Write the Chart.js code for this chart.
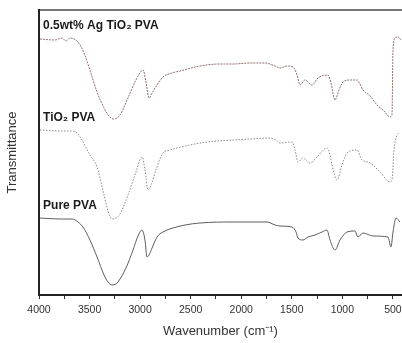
<!DOCTYPE html>
<html>
<head>
<meta charset="utf-8">
<script src="https://cdn.jsdelivr.net/npm/chart.js@4"></script>
<style>
html,body{margin:0;padding:0;background:#fff;}
canvas{display:block;}
</style>
</head>
<body>
<canvas id="c" width="402" height="343"></canvas>
<script>
// Series labels
const seriesLabels = ["0.5wt% Ag TiO\u2082 PVA", "TiO\u2082 PVA", "Pure PVA"];
// Label anchors (wavenumber, transmittance a.u.)
const labelWavenumbers = [3960, 3960, 3960];
const labelValues = [269, 177, 89];

// 0.5wt% Ag TiO2 PVA
const agWavenumbers = [3990,3842,3773,3733,3693,3654,3614,3555,3496,3426,3357,3308,3268,3229,3199,3120,3041,2971,2942,2912,2882,2833,2774,2685,2606,2408,2210,2081,1913,1765,1666,1617,1547,1488,1448,1419,1369,1300,1241,1142,1112,1073,1033,993,924,855,796,726,657,588,529,509,499,479,450,420];
const agValues =      [256,255,257,254,257,256,253,242,225,203,187,179,176,177,180,197,215,225,213,197,202,210,218,222,224,229,231,231,232,232,229,227,229,228,220,210,215,210,217,220,212,195,205,213,215,215,205,199,190,184,178,180,245,257,258,255];

// TiO2 PVA
const tio2Wavenumbers = [3990,3792,3674,3624,3575,3496,3426,3357,3318,3278,3239,3199,3120,3041,2981,2952,2922,2892,2843,2774,2704,2635,2507,2339,2081,1913,1735,1656,1617,1498,1468,1439,1389,1320,1251,1152,1122,1102,1053,1003,954,855,806,746,697,627,529,509,489,459,430];
const tio2Values =      [165,164,164,162,155,140,128,100,84,76,77,81,100,123,138,125,105,110,125,142,145,147,150,153,155,156,157,155,152,153,145,133,137,132,138,147,140,130,115,130,142,145,135,133,130,123,113,115,145,160,162];

// Pure PVA
const pureWavenumbers = [3990,3792,3674,3614,3565,3496,3426,3357,3318,3278,3239,3219,3140,3070,3021,2981,2952,2932,2912,2882,2833,2754,2675,2556,2408,2081,1745,1666,1617,1498,1458,1439,1389,1340,1270,1201,1152,1122,1073,1023,954,875,845,796,697,548,519,499,469,430];
const pureValues =      [77,76,76,73,68,55,38,20,13,10,11,13,27,45,59,65,55,38,40,47,58,64,67,70,72,73,73,70,69,68,63,57,55,58,60,63,65,55,45,55,63,64,58,62,59,58,48,63,77,73];

// X axis tick labels
const xTickLabels = [4000,3500,3000,2500,2000,1500,1000,500];

const toPts = (xs, ys) => xs.map((x, i) => ({x: x, y: ys[i]}));

const FONT = "'Liberation Sans', Arial, sans-serif";

const labelPlugin = {
  id: 'seriesLabels',
  afterDatasetsDraw(chart) {
    const ctx = chart.ctx;
    const xs = chart.scales.x, ys = chart.scales.y;
    ctx.save();
    ctx.font = "bold 12px " + FONT;
    ctx.fillStyle = "#1a1a1a";
    ctx.textBaseline = "middle";
    ctx.textAlign = "left";
    seriesLabels.forEach((t, i) => {
      ctx.fillText(t, xs.getPixelForValue(labelWavenumbers[i]), ys.getPixelForValue(labelValues[i]));
    });
    ctx.restore();
  }
};

new Chart(document.getElementById('c'), {
  type: 'line',
  data: {
    datasets: [
      {label: seriesLabels[0], data: toPts(agWavenumbers, agValues), borderColor: '#8f7070', borderWidth: 1, borderDash: [2, 1], pointRadius: 0, cubicInterpolationMode: 'monotone', fill: false},
      {label: seriesLabels[1], data: toPts(tio2Wavenumbers, tio2Values), borderColor: '#8a8a8a', borderWidth: 1, borderDash: [1.5, 1.5], pointRadius: 0, cubicInterpolationMode: 'monotone', fill: false},
      {label: seriesLabels[2], data: toPts(pureWavenumbers, pureValues), borderColor: '#5e5e5e', borderWidth: 1, pointRadius: 0, cubicInterpolationMode: 'monotone', fill: false}
    ]
  },
  options: {
    responsive: false,
    animation: false,
    events: [],
    layout: {padding: {left: 1, right: 0, top: 10, bottom: 0}},
    plugins: {legend: {display: false}, tooltip: {enabled: false}},
    scales: {
      x: {
        type: 'linear',
        position: 'bottom',
        reverse: true,
        min: 410,
        max: 4000,
        afterFit: s => { s.height = 48; s.paddingLeft = 0; s.paddingRight = 0; },
        ticks: {
          stepSize: 250,
          includeBounds: false,
          autoSkip: false,
          maxRotation: 0,
          padding: 5,
          color: '#333',
          font: {family: FONT, size: 10.5},
          callback: v => xTickLabels.includes(v) ? String(v) : ''
        },
        grid: {display: true, drawOnChartArea: false, drawTicks: true, tickLength: 4, color: '#333', tickWidth: 1},
        border: {display: true, color: '#222', width: 2},
        title: {display: true, text: 'Wavenumber (cm\u207B\u00B9)', color: '#333', font: {family: FONT, size: 13}}
      },
      x2: {
        type: 'linear',
        position: 'top',
        reverse: true,
        min: 410,
        max: 4000,
        afterFit: s => { s.paddingLeft = 0; s.paddingRight = 0; },
        ticks: {display: false},
        grid: {display: false, drawTicks: false},
        border: {display: true, color: '#777', width: 2}
      },
      y: {
        type: 'linear',
        min: 0,
        max: 285,
        afterFit: s => { s.width = 38; },
        ticks: {display: false},
        grid: {display: false, drawTicks: false},
        border: {display: true, color: '#222', width: 2},
        title: {display: true, text: 'Transmittance', color: '#333', font: {family: FONT, size: 13}}
      }
    }
  },
  plugins: [labelPlugin]
});
</script>
</body>
</html>
